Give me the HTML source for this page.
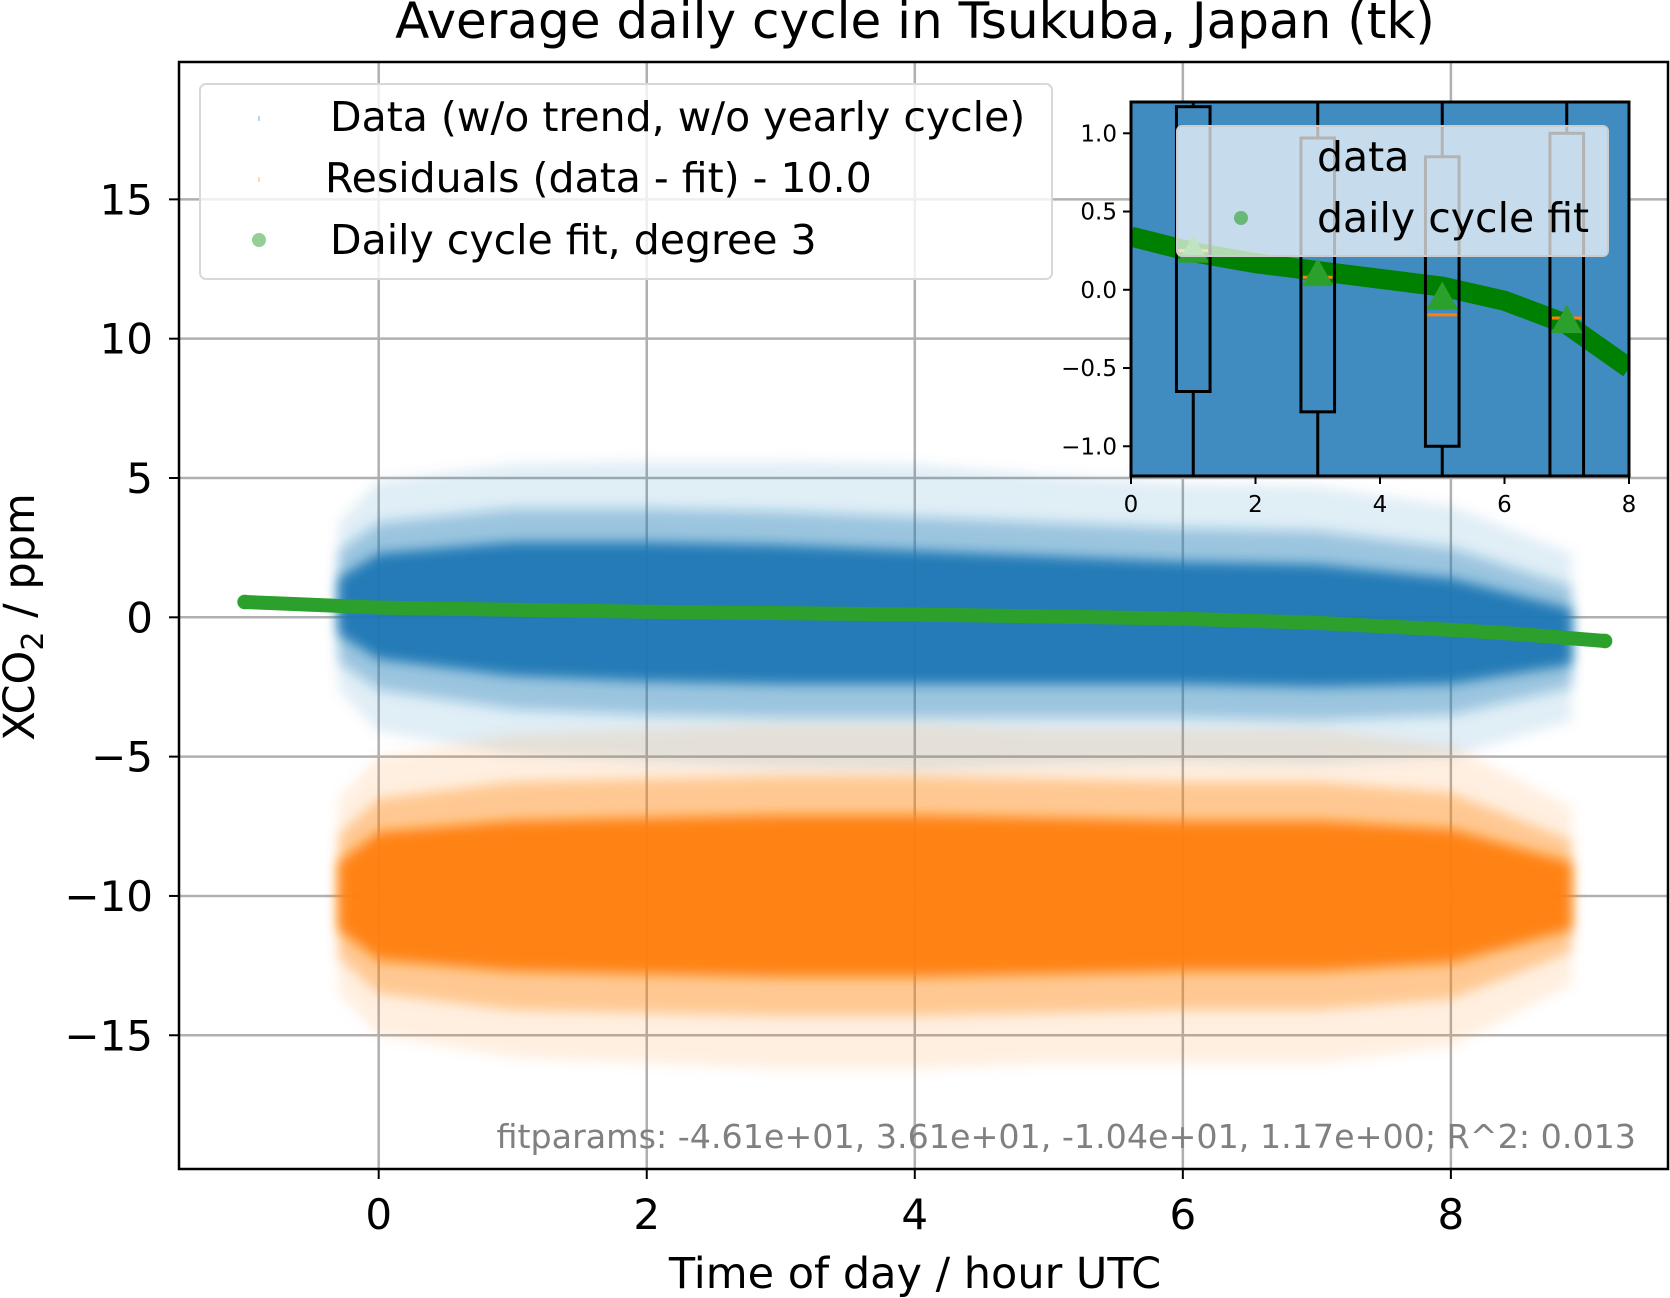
<!DOCTYPE html>
<html><head><meta charset="utf-8"><style>
html,body{margin:0;padding:0;background:#fff}
svg{display:block;font-family:"DejaVu Sans","Liberation Sans",sans-serif}
</style></head><body>
<svg id="chart" width="1670" height="1298" viewBox="0 0 1670 1298" xmlns="http://www.w3.org/2000/svg">
<text x="915" y="38" font-size="50" text-anchor="middle">Average daily cycle in Tsukuba, Japan (tk)</text>
<g id="main"></g>
<g id="inset"></g>
</svg>
<script>
// ---- main chart data ----
const xTicks = [0, 2, 4, 6, 8];
const yTicks = [15, 10, 5, 0, -5, -10, -15];
const yTickLabels = ["15", "10", "5", "0", "\u22125", "\u221210", "\u221215"];
const cloudHours = [-0.3, 0, 1, 2, 3, 4, 5, 6, 7, 8, 8.9];
const dataCenter = [0.4, 0.4, 0.3, 0.2, 0.1, 0.0, -0.1, -0.2, -0.3, -0.5, -0.7];
const dataCore = [1.0, 1.9, 2.4, 2.5, 2.5, 2.4, 2.3, 2.2, 2.2, 1.9, 1.0];
const dataMid = [2.0, 3.0, 3.6, 3.7, 3.7, 3.6, 3.5, 3.4, 3.4, 3.0, 1.8];
const dataOuter = [3.0, 4.5, 5.2, 5.4, 5.5, 5.5, 5.2, 5.0, 5.0, 4.5, 3.0];
const residCenter = [-10, -10, -10, -10, -10, -10, -10, -10, -10, -10, -10];
const residCore = [1.2, 2.3, 2.7, 2.8, 2.9, 2.9, 2.8, 2.7, 2.7, 2.4, 1.2];
const residMid = [2.2, 3.5, 4.1, 4.2, 4.3, 4.3, 4.2, 4.1, 4.1, 3.7, 2.0];
const residOuter = [3.5, 5.0, 5.8, 6.0, 6.2, 6.2, 6.0, 6.0, 6.0, 5.4, 3.2];
const fitHours = [-1.0, -0.5, 0, 1, 2, 3, 4, 5, 6, 7, 8, 8.5, 9.15];
const fitValues = [0.55, 0.45, 0.35, 0.27, 0.2, 0.15, 0.1, 0.03, -0.05, -0.2, -0.45, -0.6, -0.85];
// ---- inset data ----
const insetXTicks = [0, 2, 4, 6, 8];
const insetYTicks = [1.0, 0.5, 0.0, -0.5, -1.0];
const insetYTickLabels = ["1.0", "0.5", "0.0", "\u22120.5", "\u22121.0"];
const boxPos = [1, 3, 5, 7];
const boxQ1 = [-0.65, -0.78, -1.0, -1.5];
const boxQ3 = [1.17, 0.97, 0.85, 1.0];
const boxMedian = [0.25, 0.08, -0.16, -0.18];
const boxMean = [0.25, 0.1, -0.05, -0.2];
const insetFitHours = [0, 1, 2, 3, 4, 5, 6, 7, 8];
const insetFitValues = [0.34, 0.24, 0.17, 0.12, 0.07, 0.02, -0.07, -0.22, -0.5];

const NS = "http://www.w3.org/2000/svg";
function mk(tag, attrs, parent, txt){const e=document.createElementNS(NS,tag);for(const k in attrs)e.setAttribute(k,attrs[k]);if(txt!==undefined)e.textContent=txt;parent.appendChild(e);return e;}

const L=179,R=1668,T=62,B=1169;
const xMin=-1.49,xMax=9.62,yMin=-19.8,yMax=19.93;
const sx=v=>L+(v-xMin)/(xMax-xMin)*(R-L);
const sy=v=>B-(v-yMin)/(yMax-yMin)*(B-T);
const main=document.getElementById('main');

xTicks.forEach(t=>{const g=mk('line',{x1:sx(t),x2:sx(t),y1:T,y2:B,stroke:'#b0b0b0','stroke-width':2.5},main);

});
yTicks.forEach(t=>{const g=mk('line',{x1:L,x2:R,y1:sy(t),y2:sy(t),stroke:'#b0b0b0','stroke-width':2.5},main);

});

function band(center, half, color, op, name){
  let d='';
  cloudHours.forEach((h,i)=>{d+=(i?'L':'M')+sx(h)+','+sy(center[i]+half[i]);});
  for(let i=cloudHours.length-1;i>=0;i--)d+='L'+sx(cloudHours[i])+','+sy(center[i]-half[i]);
  const p=mk('path',{d:d+'Z',fill:color,'fill-opacity':op,filter:'url(#blur)'},main);
  
  
}
const defs=mk('defs',{},main);
const f=mk('filter',{id:'blur',x:'-10%',y:'-20%',width:'120%',height:'140%'},defs);
mk('feGaussianBlur',{stdDeviation:6},f);
band(dataCenter,dataOuter,'#1f77b4',0.12,'data-cloud-outer');
band(dataCenter,dataMid,'#1f77b4',0.35,'data-cloud-mid');
band(dataCenter,dataCore,'#1f77b4',0.95,'data-cloud-core');
band(residCenter,residOuter,'#ff7f0e',0.12,'residual-cloud-outer');
band(residCenter,residMid,'#ff7f0e',0.35,'residual-cloud-mid');
band(residCenter,residCore,'#ff7f0e',0.95,'residual-cloud-core');

let fd='';fitHours.forEach((h,i)=>{fd+=(i?'L':'M')+sx(h)+','+sy(fitValues[i]);});
const fl=mk('path',{d:fd,fill:'none',stroke:'#2ca02c','stroke-width':14,'stroke-linecap':'round'},main);


[0,fitHours.length-1].forEach(i=>{const c=mk('circle',{cx:sx(fitHours[i]),cy:sy(fitValues[i]),r:7,fill:'#2ca02c','fill-opacity':0.5,stroke:'#2ca02c','stroke-opacity':0.6},main);

});

const fr=mk('rect',{x:L,y:T,width:R-L,height:B-T,fill:'none',stroke:'#000','stroke-width':2.5},main);



xTicks.forEach(t=>{mk('line',{x1:sx(t),x2:sx(t),y1:B,y2:B+10,stroke:'#000','stroke-width':2},main);
const tx=mk('text',{x:sx(t),y:B+60,'font-size':42,'text-anchor':'middle'},main,String(t));

});
yTicks.forEach((t,i)=>{mk('line',{x1:L-10,x2:L,y1:sy(t),y2:sy(t),stroke:'#000','stroke-width':2},main);
const tx=mk('text',{x:L-26,y:sy(t)+15,'font-size':42,'text-anchor':'end'},main,yTickLabels[i]);

});

const xl=mk('text',{x:915,y:1288,'font-size':43,'text-anchor':'middle'},main,'Time of day / hour UTC');


const yl=mk('text',{x:0,y:0,'font-size':43,'text-anchor':'middle',transform:'translate(34,617) rotate(-90)'},main);


yl.innerHTML='XCO<tspan font-size="30" dy="9">2</tspan><tspan dy="-9"> / ppm</tspan>';

const fp=mk('text',{x:1636,y:1148,'font-size':33.3,'text-anchor':'end',fill:'#808080'},main,'fitparams: -4.61e+01, 3.61e+01, -1.04e+01, 1.17e+00; R^2: 0.013');



const lg=mk('g',{},main);


mk('rect',{x:200,y:84,width:852,height:195,rx:6,fill:'#fff','fill-opacity':0.8,stroke:'#d8d8d8','stroke-width':2},lg);
mk('rect',{x:258,y:116,width:2,height:5,fill:'#1f77b4','fill-opacity':0.3},lg);
mk('text',{x:330,y:131,'font-size':41},lg,'Data (w/o trend, w/o yearly cycle)');
mk('rect',{x:258,y:177,width:2,height:5,fill:'#ff7f0e','fill-opacity':0.3},lg);
mk('text',{x:325,y:192,'font-size':41},lg,'Residuals (data - fit) - 10.0');
mk('circle',{cx:259,cy:240,r:7,fill:'#2ca02c','fill-opacity':0.5},lg);
mk('text',{x:330,y:254,'font-size':41},lg,'Daily cycle fit, degree 3');

const iL=1131,iR=1629,iT=102,iB=476,ixMin=0,ixMax=8,iyMin=-1.19,iyMax=1.2;
const ix=v=>iL+(v-ixMin)/(ixMax-ixMin)*(iR-iL);
const iy=v=>iB-(v-iyMin)/(iyMax-iyMin)*(iB-iT);
const ins=document.getElementById('inset');


mk('rect',{x:iL,y:iT,width:iR-iL,height:iB-iT,fill:'#fff'},ins);
const ib=mk('rect',{x:iL,y:iT,width:iR-iL,height:iB-iT,fill:'#1f77b4','fill-opacity':0.85},ins);


const cp=mk('clipPath',{id:'ic'},ins);
mk('rect',{x:iL,y:iT,width:iR-iL,height:iB-iT},cp);
const ig=mk('g',{'clip-path':'url(#ic)'},ins);
let ifd='';insetFitHours.forEach((h,i)=>{ifd+=(i?'L':'M')+ix(h)+','+iy(insetFitValues[i]);});
const ifl=mk('path',{d:ifd,fill:'none',stroke:'#008000','stroke-width':20},ig);


boxPos.forEach((p,i)=>{
  const w=0.27;
  const bx=mk('g',{},ig);
  
  
  mk('line',{x1:ix(p),x2:ix(p),y1:iy(boxQ3[i]),y2:iT,stroke:'#000','stroke-width':3},bx);
  mk('line',{x1:ix(p),x2:ix(p),y1:iy(boxQ1[i]),y2:iB,stroke:'#000','stroke-width':3},bx);
  mk('rect',{x:ix(p-w),y:iy(boxQ3[i]),width:ix(p+w)-ix(p-w),height:iy(boxQ1[i])-iy(boxQ3[i]),fill:'none',stroke:'#000','stroke-width':3},bx);
  mk('line',{x1:ix(p-w)+2,x2:ix(p+w)-2,y1:iy(boxMedian[i]),y2:iy(boxMedian[i]),stroke:'#ff7f0e','stroke-width':3},bx);
  const y=iy(boxMean[i]),x=ix(p);
  const tr=mk('path',{d:`M${x-14},${y+11}L${x+14},${y+11}L${x},${y-14}Z`,fill:'#2ca02c',stroke:'#2ca02c','stroke-width':2},ig);
  
  
});
const il=mk('g',{},ins);


mk('rect',{x:1177,y:126,width:431,height:130,rx:5,fill:'#fff','fill-opacity':0.7,stroke:'#ccc','stroke-width':2},il);
mk('text',{x:1317,y:171,'font-size':41},il,'data');
mk('circle',{cx:1241,cy:218,r:7,fill:'#2ca02c','fill-opacity':0.6},il);
mk('text',{x:1317,y:232,'font-size':41},il,'daily cycle fit');
mk('rect',{x:iL,y:iT,width:iR-iL,height:iB-iT,fill:'none',stroke:'#000','stroke-width':3},ins);
insetXTicks.forEach(t=>{mk('line',{x1:ix(t),x2:ix(t),y1:iB,y2:iB+8,stroke:'#000','stroke-width':2},ins);
const tx=mk('text',{x:ix(t),y:iB+36,'font-size':23,'text-anchor':'middle'},ins,String(t));

});
insetYTicks.forEach((t,i)=>{mk('line',{x1:iL-8,x2:iL,y1:iy(t),y2:iy(t),stroke:'#000','stroke-width':2},ins);
const tx=mk('text',{x:iL-14,y:iy(t)+8,'font-size':23,'text-anchor':'end'},ins,insetYTickLabels[i]);

});
</script>
</body></html>
